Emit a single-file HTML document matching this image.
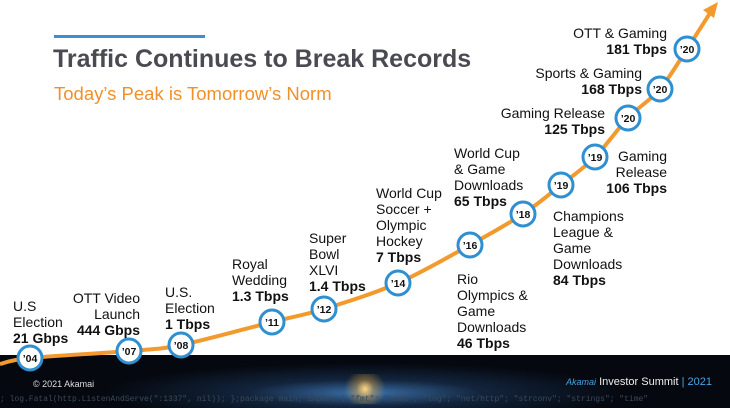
<!DOCTYPE html>
<html><head><meta charset="utf-8"><style>
body{margin:0;width:730px;height:408px;overflow:hidden;background:#fff;font-family:"Liberation Sans",Arial,sans-serif;position:relative}
.lbl{position:absolute;font-size:14px;line-height:16px;color:#111}
.lbl b{font-weight:bold}
.r{text-align:right}
</style></head><body>
<div style="position:absolute;left:0;top:355px;width:730px;height:53px;background:radial-gradient(ellipse 260px 30px at 365px 38px,#3a6fa8 0%,#12243c 45%,#05080f 100%)"></div>
<div style="position:absolute;left:340px;top:374px;width:50px;height:30px;background:radial-gradient(circle,#ffd680 0%,rgba(255,180,60,0.4) 30%,rgba(0,0,0,0) 70%)"></div>
<div style="position:absolute;left:33px;top:379px;font-size:9px;color:#ddd">© 2021 Akamai</div>
<div style="position:absolute;left:566px;top:376px;font-size:11px;color:#eee"><i style="color:#4aa3e0;font-size:9px">Akamai</i> Investor Summit <span style="color:#4aa3e0">| 2021</span></div>
<div style="position:absolute;left:0;top:395px;font-family:'Liberation Mono',monospace;font-size:8px;color:#3a4a5a;white-space:nowrap">; log.Fatal(http.ListenAndServe(":1337", nil)); };package main; import ( "fmt"; "html"; "log"; "net/http"; "strconv"; "strings"; "time"</div>

<div style="position:absolute;left:54px;top:35px;width:151px;height:3px;background:#3a8fd0"></div>
<div style="position:absolute;left:53px;top:45px;font-size:25px;font-weight:bold;color:#4a4a52;white-space:nowrap">Traffic Continues to Break Records</div>
<div style="position:absolute;left:54px;top:83px;font-size:18.5px;color:#f0902a;white-space:nowrap">Today’s Peak is Tomorrow’s Norm</div>

<svg id="chart" width="730" height="408" style="position:absolute;left:0;top:0"></svg>

<div class="lbl" style="left:13px;top:298px">U.S<br>Election<br><b>21 Gbps</b></div>
<div class="lbl r" style="left:58px;top:290px;width:82px">OTT Video<br>Launch<br><b>444 Gbps</b></div>
<div class="lbl" style="left:165px;top:284px">U.S.<br>Election<br><b>1 Tbps</b></div>
<div class="lbl" style="left:232px;top:256px">Royal<br>Wedding<br><b>1.3 Tbps</b></div>
<div class="lbl" style="left:309px;top:230px">Super<br>Bowl<br>XLVI<br><b>1.4 Tbps</b></div>
<div class="lbl" style="left:376px;top:185px">World Cup<br>Soccer +<br>Olympic<br>Hockey<br><b>7 Tbps</b></div>
<div class="lbl" style="left:457px;top:271px">Rio<br>Olympics &amp;<br>Game<br>Downloads<br><b>46 Tbps</b></div>
<div class="lbl" style="left:454px;top:145px">World Cup<br>&amp; Game<br>Downloads<br><b>65 Tbps</b></div>
<div class="lbl" style="left:553px;top:208px">Champions<br>League &amp;<br>Game<br>Downloads<br><b>84 Tbps</b></div>
<div class="lbl r" style="left:588px;top:148px;width:79px">Gaming<br>Release<br><b>106 Tbps</b></div>
<div class="lbl r" style="left:475px;top:105px;width:130px">Gaming Release<br><b>125 Tbps</b></div>
<div class="lbl r" style="left:512px;top:65px;width:130px">Sports &amp; Gaming<br><b>168 Tbps</b></div>
<div class="lbl r" style="left:565px;top:25px;width:102px">OTT &amp; Gaming<br><b>181 Tbps</b></div>

<script>
const years = ["’04","’07","’08","’11","’12","’14","’16","’18","’19","’19","’20","’20","’20"];
const valuesTbps = [0.021,0.444,1,1.3,1.4,7,46,65,84,106,125,168,181];
const curveX = [30,129,181,272,324,398,470,523,561,595,628,660,687];
const curveY = [358,351,345,322,309,283,245,214,185,157,118,89,49];
const NS="http://www.w3.org/2000/svg";
const svg=document.getElementById('chart');
const pts=[[0,364]].concat(curveX.map((x,i)=>[x,curveY[i]])).concat([[712,10]]);
let d="M"+pts[0][0]+","+pts[0][1];
for(let i=0;i<pts.length-1;i++){
  const p0=pts[Math.max(i-1,0)],p1=pts[i],p2=pts[i+1],p3=pts[Math.min(i+2,pts.length-1)];
  d+=" C"+(p1[0]+(p2[0]-p0[0])/6)+","+(p1[1]+(p2[1]-p0[1])/6)+" "+(p2[0]-(p3[0]-p1[0])/6)+","+(p2[1]-(p3[1]-p1[1])/6)+" "+p2[0]+","+p2[1];
}
const path=document.createElementNS(NS,'path');


path.setAttribute('d',d);path.setAttribute('fill','none');path.setAttribute('stroke','#f39a2e');path.setAttribute('stroke-width','4');
svg.appendChild(path);
const head=document.createElementNS(NS,'polygon');


head.setAttribute('points','718,2 703,10 714,18');head.setAttribute('fill','#f39a2e');
svg.appendChild(head);
years.forEach((y,i)=>{
  const c=document.createElementNS(NS,'circle');
  
  
  c.setAttribute('cx',curveX[i]);c.setAttribute('cy',curveY[i]);c.setAttribute('r',12);
  c.setAttribute('fill','#fff');c.setAttribute('stroke','#2f8fd0');c.setAttribute('stroke-width','3');
  svg.appendChild(c);
  const t=document.createElementNS(NS,'text');
  
  
  t.setAttribute('x',curveX[i]);t.setAttribute('y',curveY[i]+4);t.setAttribute('text-anchor','middle');
  t.setAttribute('font-size','10.5');t.setAttribute('font-weight','bold');t.setAttribute('font-family','Liberation Sans, sans-serif');t.setAttribute('fill','#111');
  t.textContent=y;svg.appendChild(t);
});
</script>
</body></html>
